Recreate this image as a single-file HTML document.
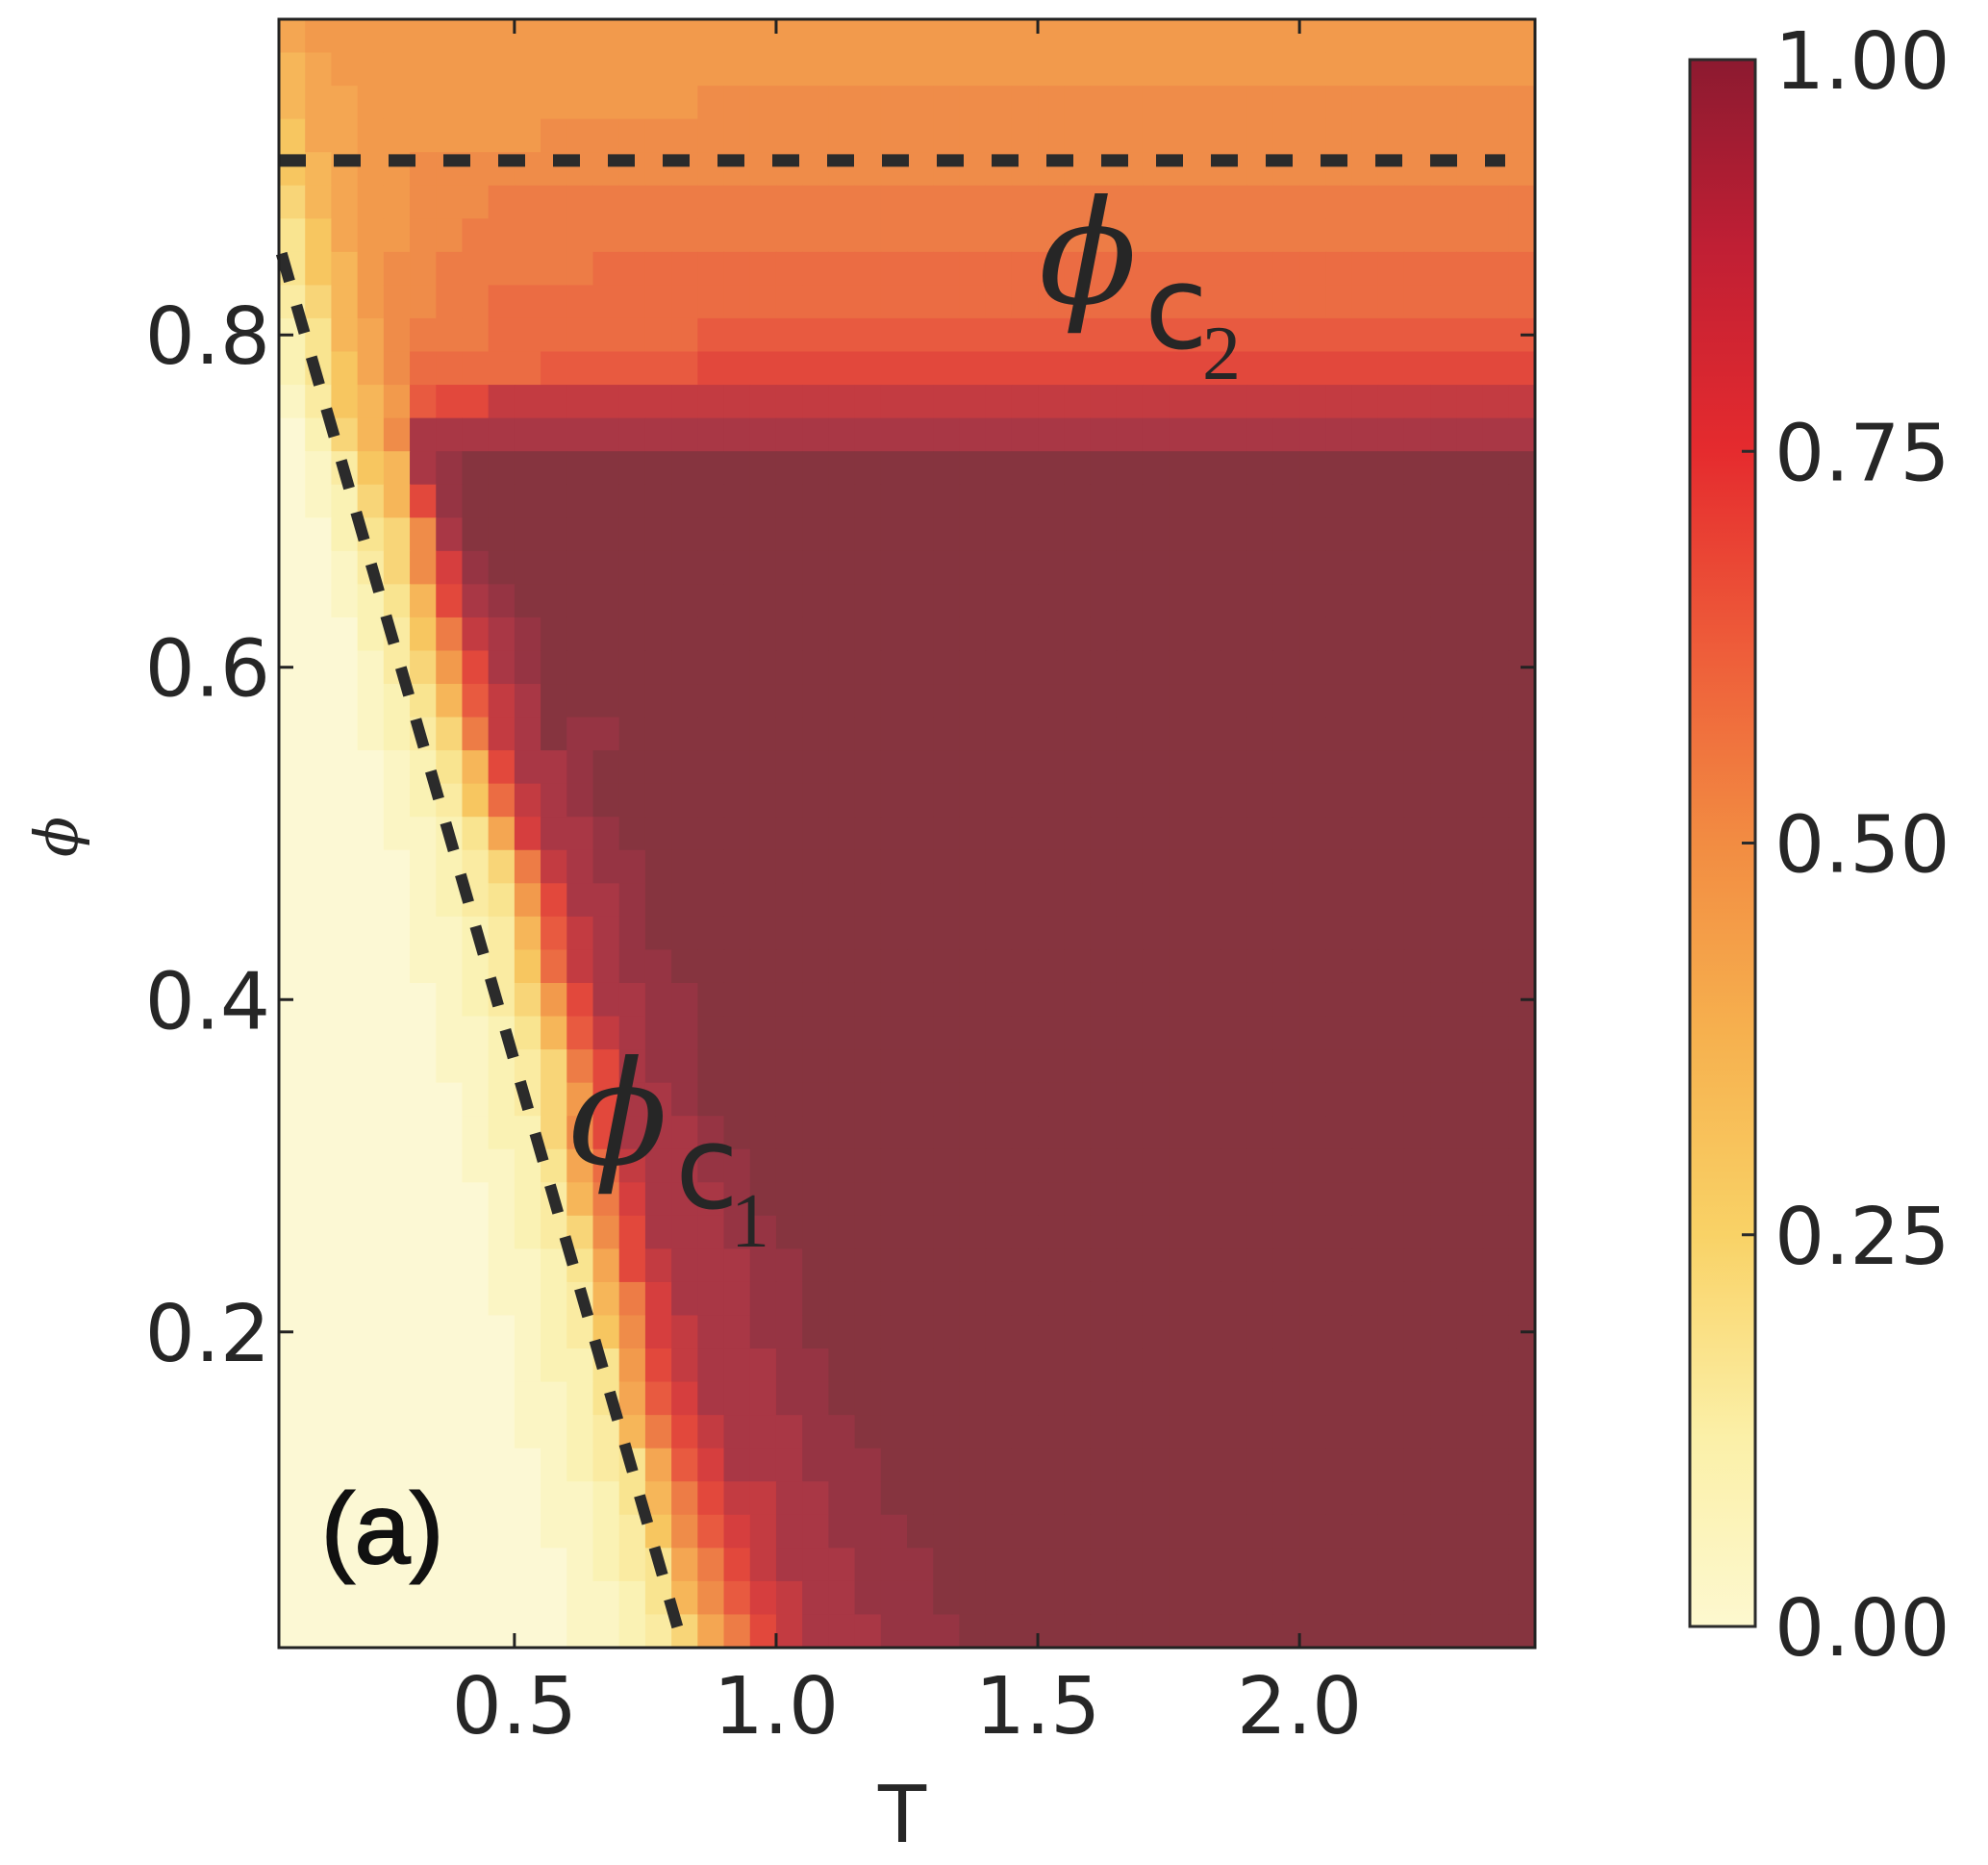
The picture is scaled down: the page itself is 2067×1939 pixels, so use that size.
<!DOCTYPE html>
<html><head><meta charset="utf-8"><style>
html,body{margin:0;padding:0;background:#fff;}
svg{display:block;}
text{font-family:"DejaVu Sans","Liberation Sans",sans-serif;fill:#262626;}
</style></head><body>
<svg id="chart" width="2067" height="1939" viewBox="0 0 2067 1939" xmlns="http://www.w3.org/2000/svg" style="position:absolute;left:0;top:0;">
<defs>
<linearGradient id="cbgrad" x1="0" y1="1" x2="0" y2="0">
<stop offset="0" stop-color="#fdf8cf"/><stop offset="0.12" stop-color="#fbf0a8"/>
<stop offset="0.25" stop-color="#f9d266"/><stop offset="0.38" stop-color="#f6b04e"/>
<stop offset="0.5" stop-color="#f28c42"/><stop offset="0.62" stop-color="#ee5e3a"/>
<stop offset="0.75" stop-color="#e52b2e"/><stop offset="0.88" stop-color="#c01f34"/>
<stop offset="1" stop-color="#8c1a30"/>
</linearGradient>
</defs>
<g id="cells"></g>
<g id="overlay"></g>
</svg>
<script>
// ---- data ----
const tStart = 0.05, tStep = 0.05, nCols = 48;      // T categories (column edges)
const phiStart = 0.01, phiStep = 0.02, nRows = 49;  // phi categories (row edges)
const xTicks = [0.5, 1.0, 1.5, 2.0];
const xTickLabels = ["0.5", "1.0", "1.5", "2.0"];
const yTicks = [0.2, 0.4, 0.6, 0.8];
const yTickLabels = ["0.2", "0.4", "0.6", "0.8"];
const cbTicks = [0, 0.25, 0.5, 0.75, 1.0];
const cbTickLabels = ["0.00", "0.25", "0.50", "0.75", "1.00"];
const phiC2 = 0.905;
const phiC1Line = [[0.055, 0.849], [0.82, 0.013]];
// value code: a=0.00, b=0.05, ... u=1.00 ; rows from top (phi high) to bottom; each row padded with its last char
const rows = [
"ij","hij","hiijjjjjjjjjjjjjk","giijjjjjjjk","ghijjk","fhijjkkkl",
"egijjkkl","eghjkkllllllm","dfhjkkllm","cehiklllmmmmmmmmn","cegikmmmmmnnnnnno",
"bdghjnooq","acfhkr","abdghrst","abcfhost","aacefkrt",
"aabdfkpst","aabcehorst","aaacdglqrst","aaabdfjorst","aaabcehnqrt",
"aaabcdflqrtsst","aaaabcehorrst","aaaabcdgmqrst","aaaabbceiprrst","aaaaabcdflqrsst",
"aaaaabcdejorrst","aaaaabbcdhnqrst","aaaaabbcdgmqrsst","aaaaaabcdfjorrsst","aaaaaabbcehnqrsst",
"aaaaaabbcdflorsst","aaaaaaabcdfjorrst","aaaaaaabccfkorrrst","aaaaaaabbceimqrrsst","aaaaaaaabcdhlprrrst",
"aaaaaaaabcdfkorrrsst","aaaaaaaabbceioqrrrsst","aaaaaaaabbcdhlprrrsst","aaaaaaaaabcdgkpqrrsst","aaaaaaaaabccejoqrrrsst",
"aaaaaaaaabbceinprrrsst","aaaaaaaaabbcdhloqrrrsst","aaaaaaaaaabcdeinprrrssst","aaaaaaaaaabbcehloqqrrsst","aaaaaaaaaabbcdgknpqrrssst",
"aaaaaaaaaaabcdeiloqrrrssst","aaaaaaaaaaabbcehknpqrrssst","aaaaaaaaaaabbcdfiloqrrrssst"
];
// ---- scales ----
const X0 = 290, X1 = 1596, Y0 = 20, Y1 = 1713;
const tMax = tStart + nCols * tStep, phiMax = phiStart + nRows * phiStep;
const xS = t => X0 + (t - tStart) / (tMax - tStart) * (X1 - X0);
const yS = p => Y1 - (p - phiStart) / (phiMax - phiStart) * (Y1 - Y0);
const stops = [[0,"#fcf8d4"],[0.1,"#faf2b4"],[0.2,"#f9e490"],[0.3,"#f7c660"],[0.4,"#f4a652"],[0.45,"#f29a4c"],[0.5,"#ef8c49"],[0.55,"#ed7c46"],[0.6,"#eb6c43"],[0.65,"#e85a40"],[0.7,"#e2483c"],[0.75,"#d63e3e"],[0.8,"#c33b41"],[0.85,"#a93745"],[0.9,"#963443"],[0.95,"#86343f"],[1,"#7a2a36"]];
function hex(h){return [1,3,5].map(i=>parseInt(h.substr(i,2),16));}
function cmap(v){
  for(let i=1;i<stops.length;i++){ if(v<=stops[i][0]){ const [a,ca]=stops[i-1],[b,cb]=stops[i]; const f=(v-a)/(b-a); const A=hex(ca),B=hex(cb); return "rgb("+A.map((x,k)=>Math.round(x+(B[k]-x)*f)).join(",")+")"; } }
  return stops[stops.length-1][1];
}
const NS="http://www.w3.org/2000/svg";
function mk(tag, attrs, parent){ const e=document.createElementNS(NS,tag); for(const k in attrs) e.setAttribute(k,attrs[k]); parent.appendChild(e); return e; }
const cells=document.getElementById("cells"), ov=document.getElementById("overlay");
rows.forEach((r,i)=>{
  const full=r.padEnd(nCols, r[r.length-1]);
  const pTop = phiMax - i*phiStep, pBot = pTop - phiStep;
  for(let j=0;j<nCols;j++){
    const v=(full.charCodeAt(j)-97)*0.05;
    const t0=tStart+j*tStep, t1=t0+tStep;
    const c=mk("rect",{x:xS(t0),y:yS(pTop),width:xS(t1)-xS(t0)+0.6,height:yS(pBot)-yS(pTop)+0.6,fill:cmap(v)},cells);
    
    
  }
});
// dashed lines
const l2=mk("line",{x1:X0,y1:yS(phiC2),x2:1565,y2:yS(phiC2),stroke:"#2b2b2b","stroke-width":13,"stroke-dasharray":"28 29"},ov);


const l1=mk("line",{x1:xS(phiC1Line[0][0]),y1:yS(phiC1Line[0][1]),x2:xS(phiC1Line[1][0]),y2:yS(phiC1Line[1][1]),stroke:"#2b2b2b","stroke-width":12,"stroke-dasharray":"30 26"},ov);


// frame
const fr=mk("rect",{x:X0,y:Y0,width:X1-X0,height:Y1-Y0,fill:"none",stroke:"#222","stroke-width":3},ov);


xTicks.forEach((t,i)=>{
  const x=xS(t);
  mk("line",{x1:x,y1:Y1,x2:x,y2:Y1-15,stroke:"#222","stroke-width":3},ov);
  mk("line",{x1:x,y1:Y0,x2:x,y2:Y0+15,stroke:"#222","stroke-width":3},ov);
  const tx=mk("text",{x:x,y:1802,"font-size":82,"text-anchor":"middle"},ov);
  tx.textContent=xTickLabels[i];
  
  
});
yTicks.forEach((p,i)=>{
  const y=yS(p);
  mk("line",{x1:X0,y1:y,x2:X0+15,y2:y,stroke:"#222","stroke-width":3},ov);
  mk("line",{x1:X1,y1:y,x2:X1-15,y2:y,stroke:"#222","stroke-width":3},ov);
  const tx=mk("text",{x:281,y:y+30,"font-size":82,"text-anchor":"end"},ov);
  tx.textContent=yTickLabels[i];
  
  
});
// colorbar
const CB0=62, CB1=1691, CBX=1757, CBW=68;
const cb=mk("rect",{x:CBX,y:CB0,width:CBW,height:CB1-CB0,fill:"url(#cbgrad)",stroke:"#2b2b2b","stroke-width":3},ov);


cbTicks.forEach((v,i)=>{
  const y=CB1-v*(CB1-CB0);
  mk("line",{x1:CBX+CBW,y1:y,x2:CBX+CBW-14,y2:y,stroke:"#2b2b2b","stroke-width":3},ov);
  const tx=mk("text",{x:1845,y:y+30,"font-size":82},ov);
  tx.textContent=cbTickLabels[i];
  
  
});
</script>
<svg width="2067" height="1939" style="position:absolute;left:0;top:0;">
<text x="938" y="1915" font-size="82" text-anchor="middle">T</text>
<text transform="translate(80,870) rotate(-90)" font-size="62" font-style="italic" text-anchor="middle" style="font-family:'DejaVu Serif',serif">ϕ</text>
<g>
<text x="1080" y="315" font-size="150" font-style="italic" style="font-family:'DejaVu Serif',serif">ϕ</text>
<text x="1190" y="362" font-size="120">c</text>
<text x="1250" y="394" font-size="80" style="font-family:'Liberation Serif',serif">2</text>
</g>
<g>
<text x="592" y="1210" font-size="150" font-style="italic" style="font-family:'DejaVu Serif',serif">ϕ</text>
<text x="702" y="1256" font-size="120">c</text>
<text x="760" y="1296" font-size="80" style="font-family:'Liberation Serif',serif">1</text>
</g>
<text x="334" y="1625" font-size="104" stroke="#111" stroke-width="2" style="font-family:'Liberation Sans',sans-serif;fill:#111">(a)</text>
</svg>
</body></html>
